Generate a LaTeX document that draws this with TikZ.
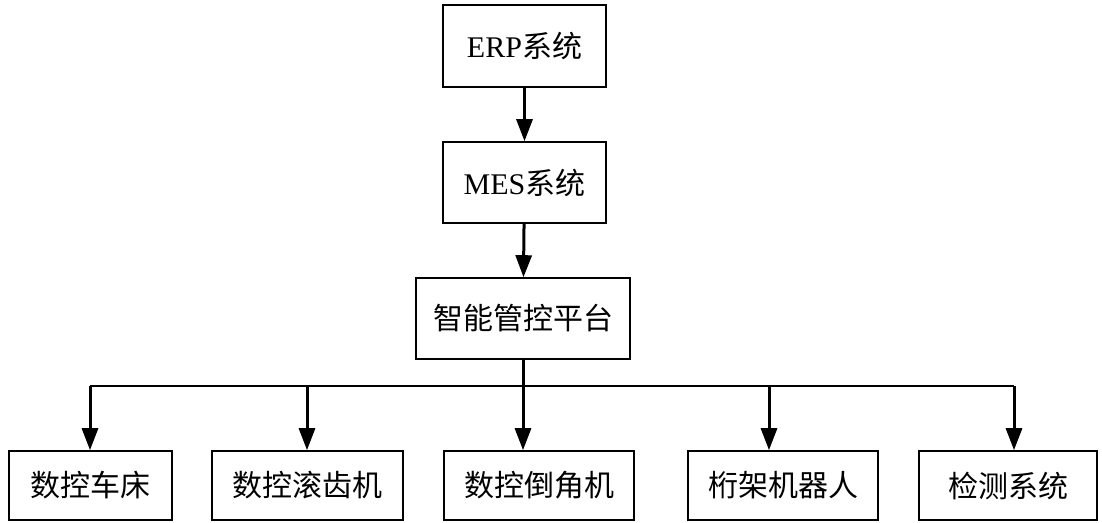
\documentclass[tikz,border=0pt]{standalone}
\usepackage{fontspec}
\setmainfont{Liberation Serif}
\newfontfamily\cjk{Noto Sans CJK SC}
\usetikzlibrary{arrows.meta}
\tikzset{
  unit/.style={draw, line width=1.6pt, inner sep=0pt, font=\fontsize{30}{36}\selectfont},
  link/.style={line width=3pt, -{Triangle[length=22pt,width=16pt]}},
  bus/.style={line width=2pt}
}

\begin{document}
\begin{tikzpicture}[x=1pt,y=-1pt]
\useasboundingbox (0,0) rectangle (1102,522);
% upper chain
\node[unit, minimum width=163pt, minimum height=82pt] (erp) at (524.5,46) {ERP{\cjk 系统}};
\node[unit, minimum width=163pt, minimum height=81pt] (mes) at (524.5,182.5) {MES{\cjk 系统}};
\node[unit, minimum width=214pt, minimum height=81pt, font=\fontsize{30}{36}\selectfont\cjk] (plat) at (523,318.5) {智能管控平台};
% lower row
\node[unit, minimum width=163pt, minimum height=69pt, font=\fontsize{30}{36}\selectfont\cjk] (c1) at (90.5,485.5) {数控车床};
\node[unit, minimum width=191pt, minimum height=69pt, font=\fontsize{30}{36}\selectfont\cjk] (c2) at (307.5,485.5) {数控滚齿机};
\node[unit, minimum width=190pt, minimum height=69pt, font=\fontsize{30}{36}\selectfont\cjk] (c3) at (539,485.5) {数控倒角机};
\node[unit, minimum width=190pt, minimum height=69pt, font=\fontsize{30}{36}\selectfont\cjk] (c4) at (783,485.5) {桁架机器人};
\node[unit, minimum width=178pt, minimum height=69pt, font=\fontsize{30}{36}\selectfont\cjk] (c5) at (1008,485.5) {检测系统};
% bus points
\coordinate (t1) at (90,386);
\coordinate (t2) at (307,386);
\coordinate (t4) at (769,386);
\coordinate (t5) at (1014,386);
\draw[link] (erp) -- (mes);
\draw[link] (mes) -- (plat);
\draw[bus] (t1) -- (t5);
\draw[link] (plat.south) -- (plat.south |- c3.north);
\draw[link] (t1) -- (t1 |- c1.north);
\draw[link] (t2) -- (t2 |- c2.north);
\draw[link] (t4) -- (t4 |- c4.north);
\draw[link] (t5) -- (t5 |- c5.north);
\end{tikzpicture}
\end{document}
